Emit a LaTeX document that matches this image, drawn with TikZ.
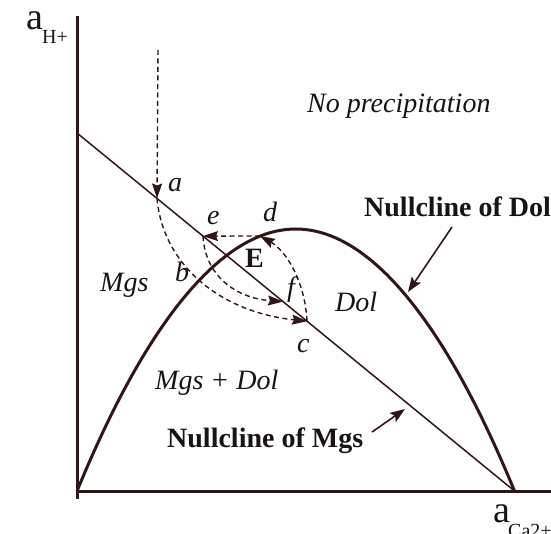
\documentclass[tikz,border=0pt]{standalone}
\usepackage{fontspec}
\setmainfont{Liberation Serif}
\usetikzlibrary{arrows.meta}
\definecolor{ink}{RGB}{48,22,22}
\definecolor{txt}{RGB}{25,20,20}
\begin{document}
\begin{tikzpicture}[x=1pt,y=-1pt,
  axisline/.style={draw=ink,line width=3pt},
  dolcurve/.style={draw=ink,line width=3pt},
  mgsline/.style={draw=ink,line width=1.5pt},
  traj/.style={draw=ink,line width=1.4pt,dash pattern=on 5pt off 3.5pt,
    -{Stealth[length=15pt,width=10pt,inset=2pt]}},
  pointer/.style={draw=ink,line width=1.6pt,-{Stealth[length=15pt,width=11pt,inset=3pt]}},
  lbl/.style={anchor=base west,inner sep=0pt,text=txt,
    font=\fontsize{28}{30}\selectfont\itshape},
  blbl/.style={anchor=base west,inner sep=0pt,text=txt,
    font=\fontsize{28}{30}\selectfont\bfseries},
  axa/.style={anchor=base west,inner sep=0pt,text=txt,
    font=\fontsize{38}{40}\selectfont},
  axsub/.style={anchor=base west,inner sep=0pt,text=txt,
    font=\fontsize{20}{22}\selectfont}
]
\useasboundingbox (0,0) rectangle (551,534);

% key points
\coordinate (O) at (77,491);
\coordinate (Ytop) at (77,16);
\coordinate (Ybot) at (77,499);
\coordinate (Xend) at (551,491);
\coordinate (X0) at (514.5,491);
\coordinate (L0) at (77,133);
\coordinate (Pk) at (295.75,229);
\coordinate (Start) at (158,50);
\coordinate (A) at (157,198.5);
\coordinate (Ep) at (203,236.1);
\coordinate (F) at (283,301.6);
\coordinate (C) at (307,321.2);
\coordinate (D) at (260,236);

% axes
\draw[axisline] (Ytop) -- (Ybot);
\draw[axisline] (O) -- (Xend);

% nullclines
\draw[mgsline] (L0) -- (X0);
\draw[dolcurve] (O) parabola bend (Pk) (X0);

% trajectories
\draw[traj] (Start) -- (A);
\draw[traj] (A) .. controls (163,265) and (220,312) .. (C);
\draw[traj] (C) .. controls (305,280) and (285,250) .. (D);
\draw[traj] (D) -- (Ep);
\draw[traj] (Ep) .. controls (205,275) and (235,298) .. (F);

% pointers
\coordinate (pd0) at (452,227);
\coordinate (pd1) at (408,292);
\coordinate (pm0) at (372,432);
\coordinate (pm1) at (405,409);
\draw[pointer] (pd0) -- (pd1);
\draw[pointer] (pm0) -- (pm1);

% axis labels
\node[axa] (ya) at (26,30) {a};
\node[axsub] (ys) at (42,44) {H+};
\node[axa] (xa) at (493,522) {a};
\node[axsub] (xs) at (508,537) {Ca2+};

% point labels
\node[lbl] (la) at (168,192) {a};
\node[lbl] (le) at (207,225) {e};
\node[lbl] (ld) at (263,222) {d};
\node[lbl] (lb) at (175,282) {b};
\node[lbl] (lf) at (287,297) {f};
\node[lbl] (lc) at (297,352) {c};
\node[blbl] (lE) at (245,268) {E};

% region labels
\node[lbl] (noprec) at (307,113) {No precipitation};
\node[lbl] (mgs) at (100,292) {Mgs};
\node[lbl] (mgsdol) at (155,389) {Mgs + Dol};
\node[lbl] (dol) at (335,312) {Dol};
\node[blbl] (ncdol) at (364,217) {Nullcline of Dol};
\node[blbl] (ncmgs) at (167,447) {Nullcline of Mgs};
\end{tikzpicture}
\end{document}
